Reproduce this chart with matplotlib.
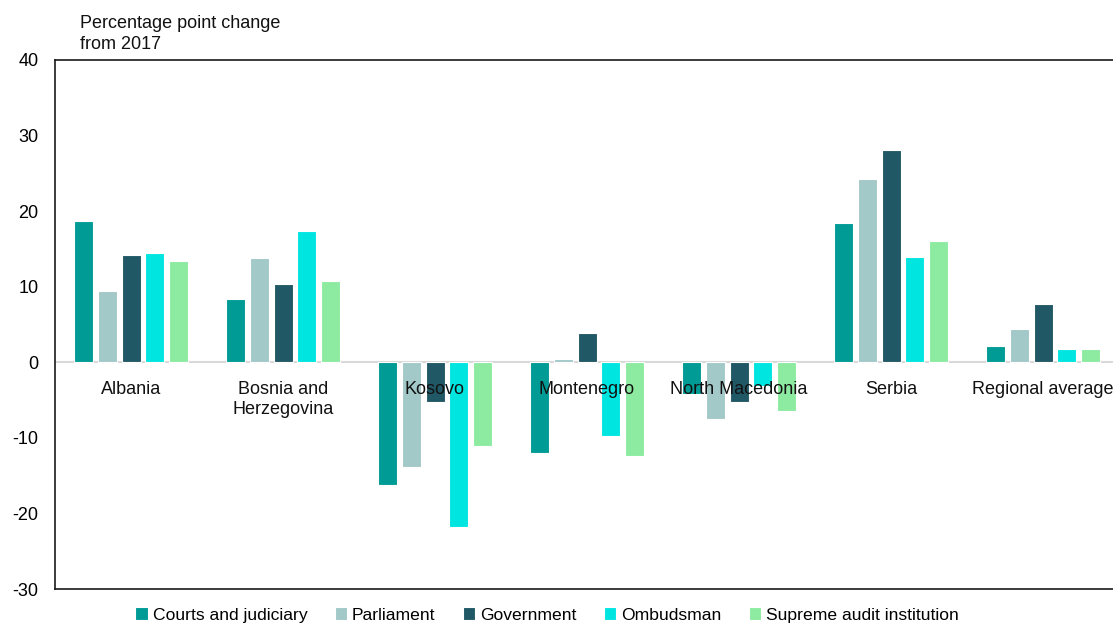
import matplotlib
matplotlib.use("Agg")
import matplotlib.pyplot as plt
import numpy as np

plt.rcParams['font.family'] = ['Liberation Sans', 'DejaVu Sans']

categories = ["Albania", "Bosnia and\nHerzegovina", "Kosovo", "Montenegro",
              "North Macedonia", "Serbia", "Regional average"]
series_names = ["Courts and judiciary", "Parliament", "Government", "Ombudsman",
                "Supreme audit institution"]
courts = [18.7, 8.4, -16.3, -12.0, -4.2, 18.4, 2.2]
parliament = [9.4, 13.8, -13.8, 0.5, -7.5, 24.3, 4.4]
government = [14.2, 10.4, -5.3, 3.9, -5.3, 28.1, 7.7]
ombudsman = [14.4, 17.4, -21.8, -9.7, -3.2, 13.9, 1.7]
sai = [13.4, 10.8, -11.1, -12.4, -6.4, 16.1, 1.8]
colors = ["#009B95", "#A2C8C8", "#215866", "#00E5E0", "#8CEBA0"]
yticks = [-30, -20, -10, 0, 10, 20, 30, 40]

series = [courts, parliament, government, ombudsman, sai]

fig = plt.figure(figsize=(11.13, 6.25), dpi=100)
W, H = 1113, 625
left, right, top, bottom = 55, 1119, 60, 589
ax = fig.add_axes([left / W, 1 - bottom / H, (right - left) / W, (bottom - top) / H])

x = np.arange(len(categories))
step = 0.155
width = 0.125
for i, (vals, name, c) in enumerate(zip(series, series_names, colors)):
    ax.bar(x + (i - 2) * step, vals, width=width, color=c, label=name,
           edgecolor="white", linewidth=0.8, zorder=2)

ax.axhline(0, color="#D9D9D9", linewidth=1.5, zorder=1)
ax.set_xlim(-0.5, 6.5)
ax.set_ylim(-30, 40)
ax.set_yticks(yticks)
ax.set_yticklabels([str(t) for t in yticks], fontsize=13)
ax.tick_params(axis='y', length=0, pad=12)
ax.set_xticks([])
for s in ax.spines.values():
    s.set_color("#1a1a1a")
    s.set_linewidth(1.2)

for xi, lab in zip(x, categories):
    ax.text(xi, -2.5, lab, ha="center", va="top", fontsize=13, color="#111111",
            zorder=3, linespacing=1.2)

fig.text(80 / W, 1 - 34 / H, "Percentage point change\nfrom 2017", ha="left",
         va="center", fontsize=13, color="#111111", linespacing=1.3)

handles, labels = ax.get_legend_handles_labels()
leg = fig.legend(handles, labels, loc="center", bbox_to_anchor=(547 / W, 1 - 615 / H),
                 ncol=5, frameon=False, fontsize=12.6, handlelength=0.7, handleheight=0.7,
                 handletextpad=0.3, columnspacing=1.55)

fig.savefig("out.png", dpi=100)
